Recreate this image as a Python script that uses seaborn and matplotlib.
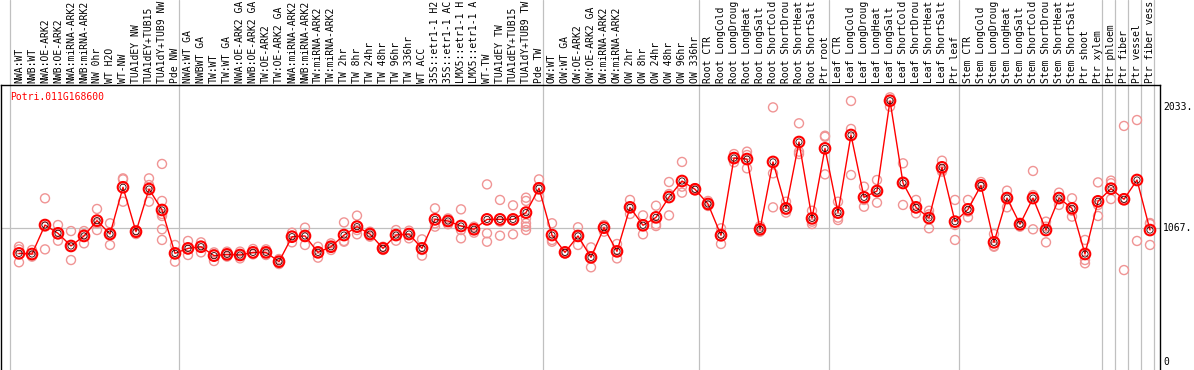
import numpy as np
import pandas as pd
import seaborn as sns
import matplotlib.pyplot as plt
import matplotlib.transforms as mtransforms

# ---------------- data ----------------
title = "Potri.011G168600"

labels_nw = ["NWA:WT", "NWB:WT", "NWA:OE-ARK2", "NWB:OE-ARK2", "NWA:miRNA-ARK2",
             "NWB:miRNA-ARK2", "NW 0hr", "WT H2O", "WT-NW", "TUA1dEY NW",
             "TUA1dEY+TUB15", "TUA1dY+TUB9 NW", "Pde NW"]
labels_tw = ["NWA:WT GA", "NWBWT GA", "TW:WT", "TW:WT GA", "NWA:OE-ARK2 GA",
             "NWB:OE-ARK2 GA", "TW:OE-ARK2", "TW:OE-ARK2 GA", "NWA:miRNA-ARK2",
             "NWB:miRNA-ARK2", "TW:miRNA-ARK2", "TW:miRNA-ARK2", "TW 2hr", "TW 8hr",
             "TW 24hr", "TW 48hr", "TW 96hr", "TW 336hr", "WT ACC", "35S::etr1-1 H2",
             "35S::etr1-1 AC", "LMX5::etr1-1 H", "LMX5::etr1-1 A", "WT-TW",
             "TUA1dEY TW", "TUA1dEY+TUB15", "TUA1dY+TUB9 TW", "Pde TW"]
labels_ow = ["OW:WT", "OW:WT GA", "OW:OE-ARK2", "OW:OE-ARK2 GA", "OW:miRNA-ARK2",
             "OW:miRNA-ARK2", "OW 2hr", "OW 8hr", "OW 24hr", "OW 48hr", "OW 96hr",
             "OW 336hr"]
labels_root = ["Root CTR", "Root LongCold", "Root LongDroug", "Root LongHeat",
               "Root LongSalt", "Root ShortCold", "Root ShortDrou", "Root ShortHeat",
               "Root ShortSalt", "Ptr root"]
labels_leaf = ["Leaf CTR", "Leaf LongCold", "Leaf LongDroug", "Leaf LongHeat",
               "Leaf LongSalt", "Leaf ShortCold", "Leaf ShortDrou", "Leaf ShortHeat",
               "Leaf ShortSalt", "Ptr leaf"]
labels_stem = ["Stem CTR", "Stem LongCold", "Stem LongDroug", "Stem LongHeat",
               "Stem LongSalt", "Stem ShortCold", "Stem ShortDrou", "Stem ShortHeat",
               "Stem ShortSalt", "Ptr shoot", "Ptr xylem"]
labels_tissue = ["Ptr phloem", "Ptr fiber", "Ptr vessel", "Ptr fiber vess"]

means_nw = [866, 861, 1092, 1026, 925, 1005, 1127, 1020, 1393, 1039, 1379, 1212, 866]
means_tw = [906, 919, 848, 858, 853, 874, 874, 800, 999, 1005, 874, 919, 1012, 1079,
            1020, 906, 1012, 1020, 906, 1137, 1124, 1084, 1058, 1137, 1137, 1137,
            1191, 1385]
means_ow = [1012, 874, 1005, 834, 1071, 882, 1233, 1090, 1153, 1315, 1443, 1377]
means_root = [1260, 1010, 1626, 1618, 1058, 1595, 1225, 1754, 1145, 1703]
means_leaf = [1191, 1810, 1313, 1363, 2083, 1427, 1233, 1148, 1552, 1119]
means_stem = [1217, 1408, 954, 1307, 1098, 1307, 1052, 1307, 1225, 861, 1281]
means_tissue = [1382, 1297, 1451, 1052]

reps_nw = [[919, 898, 795], [893, 840, 848], [1305, 1079, 898], [1092, 967, 1020],
           [1044, 813, 919], [1044, 946, 1020], [1220, 1052, 1106], [1106, 933, 1026],
           [1464, 1456, 1278], [1052, 1020, 1039], [1464, 1411, 1278],
           [1579, 1284, 1180, 1164, 1058, 973], [933, 800, 866]]
reps_tw = [[965, 853, 898], [954, 874, 925], [874, 805, 861], [880, 840, 858],
           [880, 826, 853], [901, 858, 866], [898, 853, 872], [821, 781, 800],
           [1031, 954, 1005], [1071, 933, 1005], [919, 832, 872], [946, 893, 919],
           [1113, 959, 965], [1167, 1018, 1052], [1039, 999, 1020], [919, 893, 906],
           [1052, 967, 1012], [1047, 986, 1026], [978, 848, 893], [1225, 1079, 1106],
           [1145, 1098, 1124], [1217, 986, 1052], [1079, 1031, 1058], [1416, 1026, 959],
           [1292, 1007, 1119], [1249, 1018, 1132], [1310, 1284, 1145, 1106, 1079, 1052],
           [1456, 1318, 1379]]
reps_ow = [[1106, 959, 973], [880, 866, 874], [1074, 933, 1005], [914, 755, 834],
           [1092, 1039, 1079], [941, 826, 882], [1292, 1180, 1233], [1169, 1018, 1090],
           [1246, 1098, 1084], [1435, 1339, 1169], [1595, 1398, 1350], [1385, 1371, 1377]]
reps_root = [[1284, 1244, 1260], [1066, 941, 1026], [1658, 1592, 1626], [1677, 1544, 1650],
             [1084, 1039, 1058], [2030, 1504, 1233], [1278, 1191, 1212], [1903, 1677, 1658],
             [1206, 1100, 1119], [1804, 1796, 1496]]
reps_leaf = [[1278, 1151, 1132], [2081, 1858, 1491], [1398, 1238, 1292], [1451, 1270, 1371],
             [2110, 2036, 2089], [1584, 1252, 1438], [1292, 1185, 1225], [1206, 1177, 1066],
             [1605, 1531, 1518], [1292, 1092, 973]]
reps_stem = [[1292, 1153, 1199], [1435, 1398, 1403], [1020, 919, 925], [1366, 1233, 1313],
             [1111, 1079, 1092], [1523, 1331, 1058], [1119, 954, 1079], [1350, 1252, 1313],
             [1305, 1159, 1206], [973, 813, 787], [1432, 1252, 1164]]
reps_tissue = [[1446, 1425, 1299], [1882, 1305, 733], [1929, 965], [1108, 933, 1100]]

ytick_values = [0, 1067, 2033]
ytick_labels = ["0", "1067.", "2033."]
gridline_value = 1067

# ---------------- assemble ----------------
label_groups = [labels_nw, labels_tw, labels_ow, labels_root, labels_leaf, labels_stem]
labels = sum(label_groups, []) + labels_tissue
means = means_nw + means_tw + means_ow + means_root + means_leaf + means_stem + means_tissue
reps = reps_nw + reps_tw + reps_ow + reps_root + reps_leaf + reps_stem + reps_tissue

# group boundaries (index of first category of each block)
bounds = [0]
for g in label_groups:
    bounds.append(bounds[-1] + len(g))
for _ in labels_tissue:
    bounds.append(bounds[-1] + 1)

x = np.arange(len(labels))
df_mean = pd.DataFrame({"x": x, "value": means})
df_rep = pd.DataFrame([(i, v) for i, r in enumerate(reps) for v in r], columns=["x", "value"])

# ---------------- figure ----------------
sns.set_theme(style="white")
plt.rcParams["font.family"] = ["DejaVu Sans Mono"]

W, H = 1194, 370
fig = plt.figure(figsize=(W / 100, H / 100), dpi=100)
ax_top_px = 85
ax = fig.add_axes([1 / W, 0, 1159 / W, (H - ax_top_px) / H])

# pixel mapping: category k at 19 + 13k px; value 0 at 362px, 2033 at 107px
ppu = 255 / 2033.0
ax.set_xlim((1 - 19) / 13, (1160 - 19) / 13)
ax.set_ylim((362 - H) / ppu, (362 - ax_top_px) / ppu)

ax.axhline(gridline_value, color="#c0c0c0", lw=0.9, zorder=1)
for b in bounds:
    ax.axvline(b - 9 / 13, ymin=0, ymax=H / (H - ax_top_px), color="#c0c0c0",
               lw=0.9, clip_on=False, zorder=1)

sns.scatterplot(data=df_rep, x="x", y="value", marker="o", s=42, facecolor="none",
                edgecolor="#f09494", linewidth=1.0, ax=ax, zorder=2)
sns.lineplot(data=df_mean, x="x", y="value", color="red", lw=1.0, ax=ax,
             estimator=None, sort=False, zorder=3)
sns.scatterplot(data=df_mean, x="x", y="value", marker="o", s=58, facecolor="none",
                edgecolor="red", linewidth=1.5, ax=ax, zorder=4)
sns.scatterplot(data=df_mean, x="x", y="value", marker="o", s=20, facecolor="none",
                edgecolor="#300000", linewidth=0.6, ax=ax, zorder=5)

for side in ["top", "left", "right"]:
    ax.spines[side].set_visible(True)
    ax.spines[side].set_color("black")
    ax.spines[side].set_linewidth(1.0)
ax.spines["bottom"].set_visible(False)
ax.set_xticks([])
ax.set_yticks([])
ax.set_xlabel("")
ax.set_ylabel("")

# category labels above the plot
trans = mtransforms.blended_transform_factory(ax.transData, ax.transAxes)
for k, lab in enumerate(labels):
    ax.text(k, (H - 83) / (H - ax_top_px), lab, rotation=90, ha="center", va="bottom",
            fontsize=7.0, color="black", transform=trans, clip_on=False)

# right-hand value labels
for v, t in zip(ytick_values, ytick_labels):
    ypx = 362 - v * ppu
    fig.text(1163 / W, 1 - ypx / H, t, ha="left", va="center", fontsize=7.0, color="black")

fig.text(10 / W, 1 - 97 / H, title, ha="left", va="center", fontsize=7.0, color="red")

fig.savefig("out.png", dpi=100)
